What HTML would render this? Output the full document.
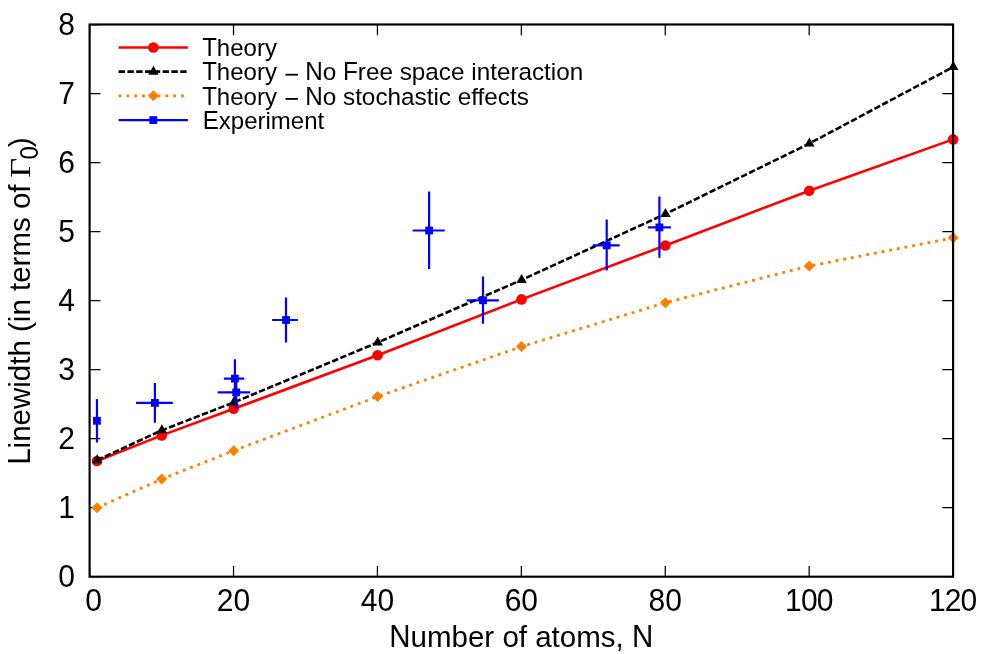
<!DOCTYPE html>
<html><head><meta charset="utf-8"><title>Linewidth vs N</title>
<style>
html,body{margin:0;padding:0;background:#fff;}
body{width:997px;height:654px;overflow:hidden;}
svg{display:block;}
text{font-family:"Liberation Sans",sans-serif;fill:#000;}
.tk,.lg{filter:grayscale(1);}
.tk{font-size:30px;}
.lg{font-size:24px;}
.sym{font-family:"Liberation Serif",serif;}
</style></head><body>
<svg width="997" height="654" viewBox="0 0 997 654">
<rect width="997" height="654" fill="#fff"/>
<g stroke="#000" stroke-width="1.25" fill="none">
<path d="M89.60,576.70h10.80M953.10,576.70h-10.80"/>
<path d="M89.60,507.68h10.80M953.10,507.68h-10.80"/>
<path d="M89.60,438.65h10.80M953.10,438.65h-10.80"/>
<path d="M89.60,369.62h10.80M953.10,369.62h-10.80"/>
<path d="M89.60,300.60h10.80M953.10,300.60h-10.80"/>
<path d="M89.60,231.58h10.80M953.10,231.58h-10.80"/>
<path d="M89.60,162.55h10.80M953.10,162.55h-10.80"/>
<path d="M89.60,93.52h10.80M953.10,93.52h-10.80"/>
<path d="M89.60,24.50h10.80M953.10,24.50h-10.80"/>
<path d="M89.60,576.70v-10.80M89.60,24.50v10.80"/>
<path d="M233.52,576.70v-10.80M233.52,24.50v10.80"/>
<path d="M377.43,576.70v-10.80M377.43,24.50v10.80"/>
<path d="M521.35,576.70v-10.80M521.35,24.50v10.80"/>
<path d="M665.27,576.70v-10.80M665.27,24.50v10.80"/>
<path d="M809.18,576.70v-10.80M809.18,24.50v10.80"/>
<path d="M953.10,576.70v-10.80M953.10,24.50v10.80"/>
</g>
<g class="tk" text-anchor="end">
<text transform="translate(74.8,587.25) scale(1,1.068)">0</text>
<text transform="translate(74.8,518.23) scale(1,1.068)">1</text>
<text transform="translate(74.8,449.20) scale(1,1.068)">2</text>
<text transform="translate(74.8,380.18) scale(1,1.068)">3</text>
<text transform="translate(74.8,311.15) scale(1,1.068)">4</text>
<text transform="translate(74.8,242.13) scale(1,1.068)">5</text>
<text transform="translate(74.8,173.10) scale(1,1.068)">6</text>
<text transform="translate(74.8,104.07) scale(1,1.068)">7</text>
<text transform="translate(74.8,35.05) scale(1,1.068)">8</text>
</g>
<g class="tk" text-anchor="middle">
<text transform="translate(93.70,610.7) scale(1,1.068)">0</text>
<text transform="translate(233.52,610.7) scale(1,1.068)">20</text>
<text transform="translate(377.43,610.7) scale(1,1.068)">40</text>
<text transform="translate(521.35,610.7) scale(1,1.068)">60</text>
<text transform="translate(665.27,610.7) scale(1,1.068)">80</text>
<text style="letter-spacing:-0.9px" transform="translate(808.78,610.7) scale(1,1.068)">100</text>
<text style="letter-spacing:-0.9px" transform="translate(952.70,610.7) scale(1,1.068)">120</text>
</g>
<g class="tk" transform="translate(389.27,646.9)"><text style="font-size:29.5px;letter-spacing:0px" transform="translate(0.00,0) scale(1,1.075)">N</text><text style="font-size:29.5px;letter-spacing:0px" transform="translate(21.30,0) scale(1,1)">umber of atoms,</text><text style="font-size:29.5px;letter-spacing:0px" transform="translate(242.62,0) scale(1,1.075)">N</text></g>
<g class="tk" transform="translate(29.8,464.8) rotate(-90)"><text style="font-size:29.5px;letter-spacing:0px" transform="translate(0.00,0) scale(1,1.075)">L</text><text style="font-size:29.5px;letter-spacing:0px" transform="translate(16.41,0) scale(1,1)">inewidth (in terms of</text><text class="sym" text-anchor="middle" transform="translate(297.0,0) scale(1.15,0.955)">Γ</text><text text-anchor="middle" font-size="24" transform="translate(311.85,8.5) scale(1,1.05)">0</text><text text-anchor="middle" transform="translate(322.6,0)">)</text></g>
<g class="lg">
<g transform="translate(202.20,56.25)"><text style="font-size:24px;letter-spacing:0px" transform="translate(0.00,0) scale(1,1.045)">T</text><text style="font-size:24px;letter-spacing:0px" transform="translate(14.66,0) scale(1,1.02)">heory</text></g>
<g transform="translate(202.20,80.40)"><text style="font-size:24px;letter-spacing:0px" transform="translate(0.00,0) scale(1,1.045)">T</text><text style="font-size:24px;letter-spacing:0px" transform="translate(14.66,0) scale(1,1.02)">heory</text></g>
<rect x="285.5" y="73.80" width="12.4" height="1.8"/>
<g transform="translate(305.2,80.40)"><text style="font-size:24.3px;letter-spacing:0px" transform="translate(0.00,0) scale(1,1.035)">N</text><text style="font-size:24.3px;letter-spacing:0px" transform="translate(17.53,0) scale(1,1.01)">o</text><text style="font-size:24.3px;letter-spacing:0px" transform="translate(37.80,0) scale(1,1.035)">F</text><text style="font-size:24.3px;letter-spacing:0px" transform="translate(52.64,0) scale(1,1.01)">ree space interaction</text></g>
<g transform="translate(202.20,104.60)"><text style="font-size:24px;letter-spacing:0px" transform="translate(0.00,0) scale(1,1.045)">T</text><text style="font-size:24px;letter-spacing:0px" transform="translate(14.66,0) scale(1,1.02)">heory</text></g>
<rect x="285.5" y="98.00" width="12.4" height="1.8"/>
<g transform="translate(305.2,104.60)"><text style="font-size:24.3px;letter-spacing:0px" transform="translate(0.00,0) scale(1,1.035)">N</text><text style="font-size:24.3px;letter-spacing:0px" transform="translate(17.53,0) scale(1,1.01)">o stochastic effects</text></g>
<g transform="translate(202.80,128.85)"><text style="font-size:24px;letter-spacing:0px" transform="translate(0.00,0) scale(1,1.045)">E</text><text style="font-size:24px;letter-spacing:0px" transform="translate(16.00,0) scale(1,1.02)">xperiment</text></g>
</g>
<g stroke="#ff0000" stroke-width="2.6" fill="none"><polyline points="96.99,460.99 161.74,435.38 233.68,408.81 377.57,355.24 521.45,299.40 665.33,245.43 809.22,190.76 953.10,139.40"/><path d="M118.6,47.50H187.9"/></g>
<g fill="#ff0000"><circle cx="96.99" cy="460.99" r="5.3"/><circle cx="161.74" cy="435.38" r="5.3"/><circle cx="233.68" cy="408.81" r="5.3"/><circle cx="377.57" cy="355.24" r="5.3"/><circle cx="521.45" cy="299.40" r="5.3"/><circle cx="665.33" cy="245.43" r="5.3"/><circle cx="809.22" cy="190.76" r="5.3"/><circle cx="953.10" cy="139.40" r="5.3"/><circle cx="153.30" cy="47.50" r="5.3"/></g>
<g stroke="#000" stroke-width="2.6" fill="none" stroke-dasharray="6.4 2.4"><polyline points="96.99,460.23 161.74,430.34 233.68,402.46 377.57,342.54 521.45,280.01 665.33,214.02 809.22,143.61 953.10,67.00"/><path d="M118.6,71.65H187.9"/></g>
<g fill="#000"><polygon points="97.14,454.23 91.95,463.23 102.34,463.23"/><polygon points="161.89,424.34 156.70,433.34 167.09,433.34"/><polygon points="233.83,396.46 228.64,405.46 239.03,405.46"/><polygon points="377.72,336.54 372.52,345.54 382.91,345.54"/><polygon points="521.60,274.01 516.40,283.01 526.80,283.01"/><polygon points="665.48,208.02 660.29,217.02 670.68,217.02"/><polygon points="809.37,137.61 804.17,146.61 814.56,146.61"/><polygon points="953.25,61.00 948.05,70.00 958.45,70.00"/><polygon points="153.45,65.65 148.25,74.65 158.65,74.65"/></g>
<g stroke="#ff8000" stroke-width="2.8" fill="none" stroke-dasharray="2.9 4.9"><polyline points="96.99,507.79 161.74,479.07 233.68,450.71 377.57,396.52 521.45,346.62 665.33,302.72 809.22,265.99 953.10,237.83"/><path d="M118.6,95.85H187.9"/></g>
<g fill="#ff8000"><polygon points="96.99,502.29 102.49,507.79 96.99,513.29 91.49,507.79"/><polygon points="161.74,473.57 167.24,479.07 161.74,484.57 156.24,479.07"/><polygon points="233.68,445.21 239.18,450.71 233.68,456.21 228.18,450.71"/><polygon points="377.57,391.02 383.07,396.52 377.57,402.02 372.07,396.52"/><polygon points="521.45,341.12 526.95,346.62 521.45,352.12 515.95,346.62"/><polygon points="665.33,297.22 670.83,302.72 665.33,308.22 659.83,302.72"/><polygon points="809.22,260.49 814.72,265.99 809.22,271.49 803.72,265.99"/><polygon points="953.10,232.33 958.60,237.83 953.10,243.33 947.60,237.83"/><polygon points="153.30,90.35 158.80,95.85 153.30,101.35 147.80,95.85"/></g>
<g stroke="#0000ff" stroke-width="2.2" fill="none">
<path d="M96.95,399.10V442.50"/>
<path d="M154.90,383.00V422.80M136.00,402.90H172.80"/>
<path d="M236.20,376.00V408.80M217.70,392.40H250.15"/>
<path d="M234.90,359.30V398.00M223.85,378.60H244.30"/>
<path d="M286.00,297.60V342.40M272.10,320.00H297.90"/>
<path d="M429.10,191.50V269.10M412.60,230.50H444.70"/>
<path d="M483.00,276.50V323.80M466.70,300.30H498.90"/>
<path d="M606.70,219.40V270.50M592.60,245.40H619.70"/>
<path d="M659.40,196.40V257.70M648.00,227.40H670.90"/>
<path d="M118.6,120.10H187.9"/></g>
<g fill="#0000ff"><rect x="93.05" y="416.90" width="7.80" height="7.80"/><rect x="151.00" y="399.00" width="7.80" height="7.80"/><rect x="232.30" y="388.50" width="7.80" height="7.80"/><rect x="231.00" y="374.70" width="7.80" height="7.80"/><rect x="282.10" y="316.10" width="7.80" height="7.80"/><rect x="425.20" y="226.60" width="7.80" height="7.80"/><rect x="479.10" y="296.40" width="7.80" height="7.80"/><rect x="602.80" y="241.50" width="7.80" height="7.80"/><rect x="655.50" y="223.50" width="7.80" height="7.80"/><rect x="149.40" y="116.20" width="7.80" height="7.80"/></g>
<rect x="89.60" y="24.50" width="863.50" height="552.20" fill="none" stroke="#000" stroke-width="2.15"/>
</svg></body></html>
